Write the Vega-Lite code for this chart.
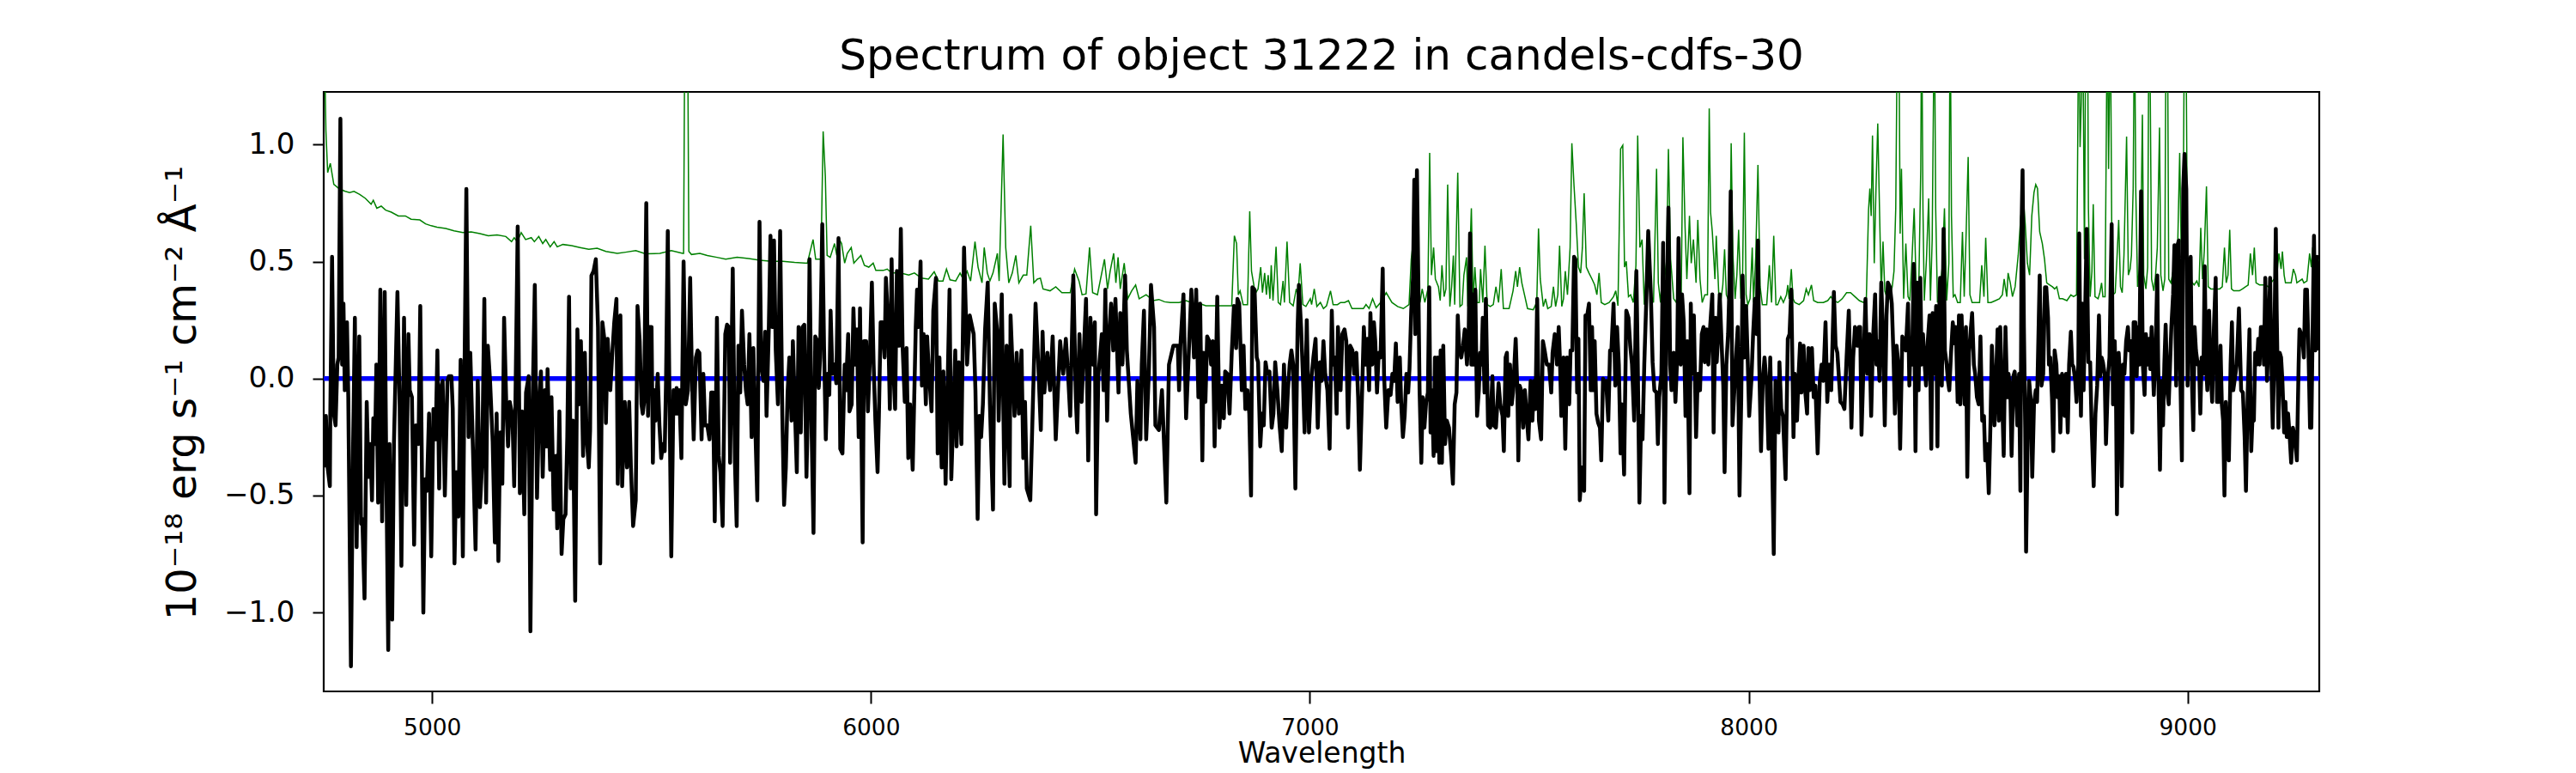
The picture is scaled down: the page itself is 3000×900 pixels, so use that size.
{
"$schema": "https://vega.github.io/schema/vega-lite/v6.json",
"width": 2324,
"height": 698,
"autosize": {"type": "none"},
"padding": {"left": 377, "top": 107, "right": 299, "bottom": 95},
"background": "#ffffff",
"title": {"text": "Spectrum of object 31222 in candels-cdfs-30", "font": "DejaVu Sans", "fontSize": 50, "fontWeight": "normal", "color": "#000000", "anchor": "middle", "frame": "group", "baseline": "alphabetic", "offset": 21.5, "dy": 45},
"datasets": {
"model": [{"wl":4753,"flux":0},{"wl":9300,"flux":0}],
"error": [
{"wl":4753,"flux":1.6},{"wl":4758,"flux":1.06},{"wl":4762,"flux":0.88},{"wl":4768,"flux":0.92},{"wl":4776,"flux":0.83},{"wl":4789,"flux":0.81},{"wl":4802,"flux":0.8},{"wl":4812,"flux":0.795},{"wl":4822,"flux":0.8},{"wl":4835,"flux":0.787},{"wl":4848,"flux":0.77},{"wl":4861,"flux":0.745},{"wl":4866,"flux":0.762},{"wl":4874,"flux":0.728},{"wl":4884,"flux":0.737},{"wl":4894,"flux":0.72},{"wl":4907,"flux":0.711},{"wl":4923,"flux":0.695},{"wl":4939,"flux":0.695},{"wl":4952,"flux":0.681},{"wl":4972,"flux":0.678},{"wl":4985,"flux":0.661},{"wl":4998,"flux":0.653},{"wl":5011,"flux":0.647},{"wl":5031,"flux":0.641},{"wl":5050,"flux":0.631},{"wl":5070,"flux":0.624},{"wl":5089,"flux":0.627},{"wl":5109,"flux":0.619},{"wl":5128,"flux":0.61},{"wl":5148,"flux":0.614},{"wl":5168,"flux":0.607},{"wl":5181,"flux":0.585},{"wl":5187,"flux":0.602},{"wl":5194,"flux":0.585},{"wl":5203,"flux":0.624},{"wl":5213,"flux":0.594},{"wl":5226,"flux":0.602},{"wl":5233,"flux":0.585},{"wl":5243,"flux":0.607},{"wl":5252,"flux":0.577},{"wl":5259,"flux":0.594},{"wl":5269,"flux":0.563},{"wl":5278,"flux":0.585},{"wl":5285,"flux":0.563},{"wl":5298,"flux":0.573},{"wl":5318,"flux":0.568},{"wl":5337,"flux":0.56},{"wl":5357,"flux":0.552},{"wl":5376,"flux":0.557},{"wl":5396,"flux":0.543},{"wl":5422,"flux":0.535},
{"wl":5441,"flux":0.54},{"wl":5464,"flux":0.547},{"wl":5486,"flux":0.533},{"wl":5519,"flux":0.535},{"wl":5545,"flux":0.547},{"wl":5571,"flux":0.535},{"wl":5573,"flux":0.535},{"wl":5576,"flux":1.6},{"wl":5582,"flux":1.6},{"wl":5585,"flux":0.543},{"wl":5591,"flux":0.53},{"wl":5610,"flux":0.535},{"wl":5627,"flux":0.526},{"wl":5649,"flux":0.518},{"wl":5669,"flux":0.51},{"wl":5695,"flux":0.518},{"wl":5721,"flux":0.513},{"wl":5747,"flux":0.506},{"wl":5773,"flux":0.501},{"wl":5799,"flux":0.501},{"wl":5826,"flux":0.496},{"wl":5855,"flux":0.493},{"wl":5868,"flux":0.594},{"wl":5874,"flux":0.51},{"wl":5886,"flux":0.51},{"wl":5891,"flux":1.056},{"wl":5896,"flux":0.863},{"wl":5900,"flux":0.526},{"wl":5907,"flux":0.518},{"wl":5917,"flux":0.577},{"wl":5922,"flux":0.526},{"wl":5927,"flux":0.597},{"wl":5933,"flux":0.577},{"wl":5940,"flux":0.493},{"wl":5946,"flux":0.535},{"wl":5955,"flux":0.56},{"wl":5961,"flux":0.493},{"wl":5969,"flux":0.51},{"wl":5977,"flux":0.526},{"wl":5985,"flux":0.484},{"wl":5995,"flux":0.476},{"wl":6005,"flux":0.493},{"wl":6011,"flux":0.462},{"wl":6028,"flux":0.462},{"wl":6037,"flux":0.468},{"wl":6047,"flux":0.451},{"wl":6067,"flux":0.451},{"wl":6086,"flux":0.442},
{"wl":6099,"flux":0.451},{"wl":6115,"flux":0.429},{"wl":6131,"flux":0.425},{"wl":6144,"flux":0.456},{"wl":6154,"flux":0.417},{"wl":6164,"flux":0.417},{"wl":6172,"flux":0.468},{"wl":6180,"flux":0.422},{"wl":6193,"flux":0.417},{"wl":6203,"flux":0.451},{"wl":6210,"flux":0.425},{"wl":6219,"flux":0.459},{"wl":6227,"flux":0.417},{"wl":6237,"flux":0.585},{"wl":6244,"flux":0.476},{"wl":6253,"flux":0.409},{"wl":6258,"flux":0.56},{"wl":6265,"flux":0.451},{"wl":6271,"flux":0.417},{"wl":6278,"flux":0.451},{"wl":6288,"flux":0.535},{"wl":6292,"flux":0.417},{"wl":6301,"flux":1.043},{"wl":6307,"flux":0.56},{"wl":6314,"flux":0.409},{"wl":6322,"flux":0.451},{"wl":6330,"flux":0.526},{"wl":6337,"flux":0.409},{"wl":6347,"flux":0.442},{"wl":6355,"flux":0.442},{"wl":6364,"flux":0.653},{"wl":6371,"flux":0.409},{"wl":6379,"flux":0.425},{"wl":6386,"flux":0.429},{"wl":6392,"flux":0.383},{"wl":6408,"flux":0.375},{"wl":6421,"flux":0.392},{"wl":6435,"flux":0.367},{"wl":6454,"flux":0.367},{"wl":6464,"flux":0.468},{"wl":6474,"flux":0.417},{"wl":6481,"flux":0.358},{"wl":6490,"flux":0.362},{"wl":6498,"flux":0.56},{"wl":6505,"flux":0.367},{"wl":6516,"flux":0.358},{"wl":6532,"flux":0.51},{"wl":6539,"flux":0.383},{"wl":6545,"flux":0.459},{"wl":6553,"flux":0.535},{"wl":6558,"flux":0.409},{"wl":6563,"flux":0.518},{"wl":6568,"flux":0.383},{"wl":6577,"flux":0.493},{"wl":6585,"flux":0.341},{"wl":6594,"flux":0.375},{"wl":6603,"flux":0.4},{"wl":6611,"flux":0.341},{"wl":6627,"flux":0.358},{"wl":6643,"flux":0.333},{"wl":6656,"flux":0.338},{"wl":6669,"flux":0.328},{"wl":6682,"flux":0.325},{"wl":6702,"flux":0.325},{"wl":6718,"flux":0.333},{"wl":6735,"flux":0.321},{"wl":6748,"flux":0.321},
{"wl":6763,"flux":0.311},{"wl":6783,"flux":0.311},{"wl":6809,"flux":0.311},{"wl":6822,"flux":0.311},{"wl":6828,"flux":0.61},{"wl":6833,"flux":0.577},{"wl":6837,"flux":0.358},{"wl":6841,"flux":0.375},{"wl":6848,"flux":0.316},{"wl":6858,"flux":0.316},{"wl":6863,"flux":0.715},{"wl":6867,"flux":0.459},{"wl":6873,"flux":0.392},{"wl":6877,"flux":0.367},{"wl":6882,"flux":0.383},{"wl":6888,"flux":0.476},{"wl":6892,"flux":0.367},{"wl":6897,"flux":0.451},{"wl":6901,"flux":0.358},{"wl":6905,"flux":0.442},{"wl":6909,"flux":0.341},{"wl":6912,"flux":0.484},{"wl":6916,"flux":0.333},{"wl":6923,"flux":0.563},{"wl":6928,"flux":0.325},{"wl":6933,"flux":0.316},{"wl":6939,"flux":0.417},{"wl":6942,"flux":0.325},{"wl":6948,"flux":0.585},{"wl":6954,"flux":0.325},{"wl":6962,"flux":0.311},{"wl":6969,"flux":0.383},{"wl":6973,"flux":0.358},{"wl":6978,"flux":0.493},{"wl":6984,"flux":0.316},{"wl":6991,"flux":0.308},{"wl":7001,"flux":0.341},{"wl":7004,"flux":0.316},{"wl":7010,"flux":0.383},{"wl":7016,"flux":0.308},{"wl":7024,"flux":0.325},{"wl":7031,"flux":0.299},{"wl":7038,"flux":0.311},{"wl":7047,"flux":0.375},{"wl":7053,"flux":0.316},{"wl":7063,"flux":0.316},{"wl":7070,"flux":0.325},{"wl":7079,"flux":0.325},{"wl":7088,"flux":0.333},{"wl":7096,"flux":0.299},{"wl":7109,"flux":0.299},{"wl":7122,"flux":0.299},{"wl":7128,"flux":0.316},{"wl":7135,"flux":0.299},{"wl":7143,"flux":0.341},{"wl":7151,"flux":0.303},{"wl":7161,"flux":0.325},{"wl":7174,"flux":0.367},{"wl":7187,"flux":0.325},{"wl":7200,"flux":0.308},{"wl":7213,"flux":0.299},{"wl":7226,"flux":0.316},{"wl":7231,"flux":0.51},{"wl":7236,"flux":0.594},{"wl":7240,"flux":0.526},{"wl":7246,"flux":0.442},{"wl":7251,"flux":0.325},{"wl":7256,"flux":0.383},{"wl":7262,"flux":0.325},{"wl":7269,"flux":0.383},{"wl":7273,"flux":0.964},{"wl":7277,"flux":0.442},{"wl":7282,"flux":0.56},{"wl":7286,"flux":0.425},{"wl":7293,"flux":0.392},{"wl":7297,"flux":0.333},{"wl":7301,"flux":0.484},{"wl":7306,"flux":0.35},{"wl":7310,"flux":0.383},{"wl":7314,"flux":0.829},{"wl":7319,"flux":0.308},{"wl":7323,"flux":0.392},{"wl":7327,"flux":0.526},{"wl":7330,"flux":0.316},{"wl":7337,"flux":0.88},{"wl":7342,"flux":0.308},{"wl":7347,"flux":0.316},{"wl":7351,"flux":0.442},{"wl":7357,"flux":0.518},{"wl":7360,"flux":0.308},{"wl":7363,"flux":0.442},{"wl":7368,"flux":0.728},{"wl":7372,"flux":0.325},{"wl":7376,"flux":0.476},{"wl":7381,"flux":0.325},{"wl":7386,"flux":0.325},{"wl":7389,"flux":0.468},{"wl":7394,"flux":0.325},{"wl":7399,"flux":0.568},{"wl":7404,"flux":0.316},
{"wl":7411,"flux":0.308},{"wl":7418,"flux":0.316},{"wl":7424,"flux":0.392},{"wl":7430,"flux":0.325},{"wl":7436,"flux":0.468},{"wl":7441,"flux":0.299},{"wl":7454,"flux":0.299},{"wl":7463,"flux":0.375},{"wl":7469,"flux":0.459},{"wl":7473,"flux":0.392},{"wl":7478,"flux":0.476},{"wl":7483,"flux":0.409},{"wl":7490,"flux":0.35},{"wl":7496,"flux":0.299},{"wl":7509,"flux":0.294},{"wl":7517,"flux":0.325},{"wl":7521,"flux":0.641},{"wl":7525,"flux":0.425},{"wl":7532,"flux":0.308},{"wl":7537,"flux":0.341},{"wl":7542,"flux":0.299},{"wl":7550,"flux":0.308},{"wl":7555,"flux":0.392},{"wl":7560,"flux":0.308},{"wl":7565,"flux":0.358},{"wl":7569,"flux":0.568},{"wl":7574,"flux":0.308},{"wl":7578,"flux":0.341},{"wl":7582,"flux":0.459},{"wl":7587,"flux":0.358},{"wl":7593,"flux":0.56},{"wl":7597,"flux":1.006},{"wl":7602,"flux":0.821},{"wl":7607,"flux":0.661},{"wl":7612,"flux":0.476},{"wl":7617,"flux":0.451},{"wl":7621,"flux":0.56},{"wl":7625,"flux":0.792},{"wl":7630,"flux":0.476},{"wl":7636,"flux":0.451},{"wl":7643,"flux":0.425},{"wl":7649,"flux":0.4},{"wl":7654,"flux":0.358},{"wl":7659,"flux":0.451},{"wl":7664,"flux":0.325},{"wl":7672,"flux":0.316},{"wl":7682,"flux":0.325},{"wl":7692,"flux":0.35},{"wl":7697,"flux":0.375},{"wl":7702,"flux":0.311},{"wl":7708,"flux":0.981},{"wl":7713,"flux":0.997},{"wl":7717,"flux":0.476},{"wl":7721,"flux":0.501},{"wl":7726,"flux":0.35},{"wl":7731,"flux":0.358},{"wl":7737,"flux":0.325},{"wl":7743,"flux":0.484},{"wl":7747,"flux":1.039},{"wl":7752,"flux":0.56},{"wl":7757,"flux":0.594},{"wl":7762,"flux":0.316},{"wl":7767,"flux":0.459},{"wl":7771,"flux":0.51},{"wl":7777,"flux":0.358},{"wl":7783,"flux":0.325},{"wl":7790,"flux":0.896},{"wl":7794,"flux":0.409},{"wl":7799,"flux":0.325},{"wl":7806,"flux":0.526},{"wl":7812,"flux":0.425},{"wl":7817,"flux":0.981},{"wl":7822,"flux":0.51},{"wl":7829,"flux":0.341},{"wl":7835,"flux":0.325},{"wl":7842,"flux":0.442},{"wl":7846,"flux":0.325},{"wl":7850,"flux":1.031},{"wl":7855,"flux":0.644},{"wl":7859,"flux":0.425},{"wl":7865,"flux":0.695},{"wl":7869,"flux":0.493},{"wl":7874,"flux":0.594},{"wl":7880,"flux":0.409},{"wl":7884,"flux":0.678},{"wl":7889,"flux":0.425},{"wl":7894,"flux":0.325},{"wl":7900,"flux":0.358},{"wl":7906,"flux":0.358},{"wl":7910,"flux":1.154},{"wl":7913,"flux":0.711},{"wl":7917,"flux":0.627},{"wl":7923,"flux":0.425},{"wl":7926,"flux":0.61},{"wl":7932,"flux":0.35},{"wl":7936,"flux":0.325},{"wl":7941,"flux":0.4},{"wl":7945,"flux":0.552},{"wl":7949,"flux":0.358},{"wl":7956,"flux":0.325},{"wl":7960,"flux":1.006},{"wl":7964,"flux":0.526},{"wl":7969,"flux":0.341},{"wl":7973,"flux":0.442},{"wl":7977,"flux":0.636},{"wl":7982,"flux":0.341},{"wl":7986,"flux":0.434},{"wl":7990,"flux":1.051},{"wl":7994,"flux":0.358},{"wl":7998,"flux":0.316},{"wl":8003,"flux":0.341},{"wl":8008,"flux":0.56},{"wl":8011,"flux":0.325},{"wl":8016,"flux":0.526},{"wl":8021,"flux":0.913},{"wl":8026,"flux":0.392},{"wl":8031,"flux":0.316},{"wl":8041,"flux":0.316},{"wl":8047,"flux":0.484},{"wl":8052,"flux":0.325},{"wl":8057,"flux":0.61},{"wl":8062,"flux":0.316},
{"wl":8066,"flux":0.316},{"wl":8073,"flux":0.35},{"wl":8079,"flux":0.325},{"wl":8086,"flux":0.358},{"wl":8089,"flux":0.4},{"wl":8092,"flux":0.341},{"wl":8097,"flux":0.468},{"wl":8101,"flux":0.341},{"wl":8105,"flux":0.325},{"wl":8115,"flux":0.316},{"wl":8125,"flux":0.333},{"wl":8131,"flux":0.383},{"wl":8136,"flux":0.358},{"wl":8143,"flux":0.4},{"wl":8148,"flux":0.333},{"wl":8157,"flux":0.325},{"wl":8170,"flux":0.325},{"wl":8180,"flux":0.333},{"wl":8187,"flux":0.35},{"wl":8193,"flux":0.333},{"wl":8203,"flux":0.325},{"wl":8213,"flux":0.341},{"wl":8223,"flux":0.367},{"wl":8232,"flux":0.367},{"wl":8242,"flux":0.35},{"wl":8252,"flux":0.333},{"wl":8262,"flux":0.325},{"wl":8268,"flux":0.341},{"wl":8273,"flux":0.72},{"wl":8276,"flux":0.812},{"wl":8279,"flux":0.695},{"wl":8282,"flux":1.039},{"wl":8286,"flux":0.493},{"wl":8290,"flux":0.812},{"wl":8294,"flux":1.09},{"wl":8297,"flux":0.812},{"wl":8302,"flux":0.367},{"wl":8306,"flux":0.585},{"wl":8310,"flux":0.375},{"wl":8314,"flux":0.35},{"wl":8320,"flux":0.341},{"wl":8327,"flux":0.392},{"wl":8331,"flux":0.459},{"wl":8335,"flux":0.728},{"wl":8339,"flux":1.6},{"wl":8342,"flux":1.6},{"wl":8345,"flux":0.619},{"wl":8348,"flux":0.896},{"wl":8353,"flux":0.341},{"wl":8358,"flux":0.577},{"wl":8363,"flux":0.35},{"wl":8367,"flux":0.333},{"wl":8372,"flux":0.51},{"wl":8377,"flux":0.728},{"wl":8382,"flux":0.35},{"wl":8387,"flux":0.333},{"wl":8392,"flux":0.896},{"wl":8394,"flux":1.6},{"wl":8397,"flux":0.728},{"wl":8400,"flux":0.333},{"wl":8405,"flux":0.51},{"wl":8410,"flux":0.77},{"wl":8414,"flux":0.333},{"wl":8418,"flux":0.594},{"wl":8423,"flux":1.6},{"wl":8426,"flux":0.728},{"wl":8430,"flux":0.325},{"wl":8434,"flux":0.358},{"wl":8441,"flux":0.476},{"wl":8446,"flux":0.728},{"wl":8451,"flux":0.333},{"wl":8456,"flux":0.493},{"wl":8459,"flux":1.6},{"wl":8462,"flux":0.695},{"wl":8466,"flux":0.35},{"wl":8470,"flux":0.358},{"wl":8476,"flux":0.325},{"wl":8482,"flux":0.325},{"wl":8487,"flux":0.627},{"wl":8491,"flux":0.35},{"wl":8495,"flux":0.594},{"wl":8500,"flux":0.947},{"wl":8504,"flux":0.358},{"wl":8509,"flux":0.325},{"wl":8516,"flux":0.325},{"wl":8526,"flux":0.325},{"wl":8531,"flux":0.484},{"wl":8536,"flux":0.35},{"wl":8540,"flux":0.602},{"wl":8545,"flux":0.325},{"wl":8552,"flux":0.325},{"wl":8562,"flux":0.333},{"wl":8571,"flux":0.341},{"wl":8578,"flux":0.358},{"wl":8582,"flux":0.425},{"wl":8588,"flux":0.35},{"wl":8591,"flux":0.451},{"wl":8596,"flux":0.409},{"wl":8601,"flux":0.35},{"wl":8607,"flux":0.392},{"wl":8614,"flux":0.526},{"wl":8620,"flux":0.695},{"wl":8626,"flux":0.762},{"wl":8630,"flux":0.661},{"wl":8635,"flux":0.493},{"wl":8640,"flux":0.442},{"wl":8645,"flux":0.695},{"wl":8650,"flux":0.795},{"wl":8654,"flux":0.829},{"wl":8658,"flux":0.812},{"wl":8663,"flux":0.627},{"wl":8669,"flux":0.577},{"wl":8674,"flux":0.51},{"wl":8679,"flux":0.409},{"wl":8686,"flux":0.4},{"wl":8692,"flux":0.392},{"wl":8697,"flux":0.383},{"wl":8702,"flux":0.392},{"wl":8708,"flux":0.341},{"wl":8715,"flux":0.341},{"wl":8725,"flux":0.333},
{"wl":8734,"flux":0.358},{"wl":8740,"flux":0.35},{"wl":8747,"flux":0.358},{"wl":8752,"flux":1.6},{"wl":8755,"flux":0.989},{"wl":8758,"flux":1.199},{"wl":8761,"flux":1.6},{"wl":8765,"flux":0.51},{"wl":8768,"flux":1.6},{"wl":8772,"flux":1.6},{"wl":8774,"flux":0.728},{"wl":8778,"flux":0.35},{"wl":8782,"flux":0.459},{"wl":8785,"flux":0.745},{"wl":8789,"flux":0.35},{"wl":8796,"flux":0.341},{"wl":8800,"flux":0.367},{"wl":8804,"flux":0.409},{"wl":8807,"flux":0.35},{"wl":8812,"flux":0.35},{"wl":8817,"flux":1.6},{"wl":8820,"flux":0.896},{"wl":8824,"flux":1.6},{"wl":8827,"flux":0.678},{"wl":8830,"flux":0.358},{"wl":8835,"flux":0.367},{"wl":8839,"flux":0.51},{"wl":8843,"flux":0.678},{"wl":8847,"flux":0.392},{"wl":8851,"flux":0.367},{"wl":8855,"flux":0.526},{"wl":8861,"flux":1.034},{"wl":8865,"flux":0.442},{"wl":8869,"flux":0.468},{"wl":8872,"flux":0.526},{"wl":8876,"flux":0.812},{"wl":8879,"flux":1.6},{"wl":8882,"flux":0.795},{"wl":8886,"flux":0.392},{"wl":8890,"flux":0.468},{"wl":8894,"flux":0.678},{"wl":8897,"flux":1.128},{"wl":8900,"flux":0.442},{"wl":8905,"flux":0.383},{"wl":8909,"flux":0.476},{"wl":8912,"flux":1.6},{"wl":8915,"flux":1.199},{"wl":8918,"flux":0.425},{"wl":8923,"flux":0.375},{"wl":8927,"flux":0.442},{"wl":8931,"flux":0.56},{"wl":8936,"flux":1.073},{"wl":8939,"flux":0.442},{"wl":8944,"flux":0.375},{"wl":8948,"flux":0.425},{"wl":8951,"flux":1.6},{"wl":8954,"flux":1.6},{"wl":8957,"flux":0.425},{"wl":8962,"flux":0.409},{"wl":8967,"flux":0.459},{"wl":8972,"flux":0.56},{"wl":8976,"flux":0.442},{"wl":8982,"flux":0.964},{"wl":8985,"flux":0.594},{"wl":8989,"flux":0.442},{"wl":8993,"flux":1.6},{"wl":8996,"flux":1.6},{"wl":9000,"flux":0.392},{"wl":9004,"flux":0.425},{"wl":9011,"flux":0.409},{"wl":9015,"flux":0.4},{"wl":9021,"flux":0.417},{"wl":9026,"flux":0.392},{"wl":9030,"flux":0.644},{"wl":9034,"flux":0.425},{"wl":9038,"flux":0.543},{"wl":9043,"flux":0.821},{"wl":9047,"flux":0.392},{"wl":9053,"flux":0.383},{"wl":9060,"flux":0.383},{"wl":9066,"flux":0.383},{"wl":9073,"flux":0.383},{"wl":9079,"flux":0.392},{"wl":9084,"flux":0.56},{"wl":9088,"flux":0.409},{"wl":9092,"flux":0.442},{"wl":9096,"flux":0.636},{"wl":9100,"flux":0.383},{"wl":9105,"flux":0.375},{"wl":9112,"flux":0.375},{"wl":9118,"flux":0.375},{"wl":9125,"flux":0.383},{"wl":9132,"flux":0.392},{"wl":9138,"flux":0.4},{"wl":9143,"flux":0.535},{"wl":9148,"flux":0.442},{"wl":9152,"flux":0.56},{"wl":9156,"flux":0.409},{"wl":9164,"flux":0.4},{"wl":9177,"flux":0.4},{"wl":9184,"flux":0.392},{"wl":9190,"flux":0.409},{"wl":9197,"flux":0.425},{"wl":9203,"flux":0.434},{"wl":9208,"flux":0.535},{"wl":9213,"flux":0.468},{"wl":9216,"flux":0.543},{"wl":9220,"flux":0.442},{"wl":9223,"flux":0.409},{"wl":9229,"flux":0.409},{"wl":9236,"flux":0.409},{"wl":9241,"flux":0.468},{"wl":9246,"flux":0.442},{"wl":9249,"flux":0.409},{"wl":9255,"flux":0.417},{"wl":9261,"flux":0.425},{"wl":9265,"flux":0.409},{"wl":9272,"flux":0.417},{"wl":9278,"flux":0.535},{"wl":9282,"flux":0.476},{"wl":9285,"flux":0.56},{"wl":9288,"flux":0.518},{"wl":9295,"flux":0.493},{"wl":9300,"flux":0.51}
],
"flux": [
{"wl":4753,"flux":-0.38},{"wl":4758,"flux":-0.16},{"wl":4762,"flux":-0.38},{"wl":4767,"flux":-0.46},{"wl":4768,"flux":-0.15},{"wl":4772,"flux":0.52},{"wl":4776,"flux":-0.15},{"wl":4780,"flux":-0.2},{"wl":4784,"flux":0.06},{"wl":4787,"flux":0.09},{"wl":4791,"flux":1.11},{"wl":4795,"flux":0.06},{"wl":4798,"flux":0.32},{"wl":4801,"flux":-0.05},{"wl":4806,"flux":0.24},{"wl":4809,"flux":-0.08},{"wl":4815,"flux":-1.23},{"wl":4820,"flux":-0.28},{"wl":4824,"flux":0.26},{"wl":4828,"flux":-0.72},{"wl":4834,"flux":0.18},{"wl":4838,"flux":-0.62},{"wl":4841,"flux":-0.6},{"wl":4846,"flux":-0.94},{"wl":4851,"flux":-0.1},{"wl":4855,"flux":-0.42},{"wl":4859,"flux":-0.28},{"wl":4863,"flux":-0.52},{"wl":4866,"flux":-0.17},{"wl":4870,"flux":-0.28},{"wl":4873,"flux":0.06},{"wl":4877,"flux":-0.53},{"wl":4882,"flux":0.38},{"wl":4886,"flux":-0.61},{"wl":4892,"flux":0.37},{"wl":4895,"flux":-0.28},{"wl":4900,"flux":-1.16},{"wl":4903,"flux":-0.28},{"wl":4909,"flux":-1.03},{"wl":4913,"flux":-0.28},{"wl":4921,"flux":0.37},{"wl":4926,"flux":-0.11},{"wl":4930,"flux":-0.8},{"wl":4936,"flux":0.26},{"wl":4941,"flux":-0.54},{"wl":4946,"flux":0.19},{"wl":4949,"flux":-0.05},{"wl":4954,"flux":-0.08},{"wl":4959,"flux":-0.71},{"wl":4963,"flux":-0.2},{"wl":4969,"flux":-0.28},{"wl":4973,"flux":0.31},{"wl":4980,"flux":-1.0},{"wl":4984,"flux":-0.43},{"wl":4988,"flux":-0.48},{"wl":4993,"flux":-0.15},{"wl":4998,"flux":-0.76},{"wl":5003,"flux":-0.13},{"wl":5008,"flux":-0.26},{"wl":5012,"flux":0.12},{"wl":5016,"flux":-0.47},{"wl":5019,"flux":-0.05},{"wl":5024,"flux":-0.01},{"wl":5029,"flux":-0.5},{"wl":5035,"flux":-0.01},{"wl":5038,"flux":0.01},{"wl":5044,"flux":0.01},{"wl":5047,"flux":-0.13},{"wl":5051,"flux":-0.79},{"wl":5055,"flux":-0.4},{"wl":5060,"flux":-0.59},{"wl":5065,"flux":0.08},{"wl":5070,"flux":-0.76},{"wl":5074,"flux":0.06},{"wl":5078,"flux":0.81},{"wl":5083,"flux":-0.25},{"wl":5087,"flux":0.11},{"wl":5093,"flux":-0.3},{"wl":5099,"flux":-0.73},{"wl":5104,"flux":-0.01},{"wl":5109,"flux":-0.55},{"wl":5114,"flux":-0.36},{"wl":5119,"flux":0.34},{"wl":5123,"flux":-0.53},{"wl":5127,"flux":0.14},{"wl":5132,"flux":-0.01},{"wl":5138,"flux":-0.27},{"wl":5143,"flux":-0.7},{"wl":5147,"flux":-0.15},{"wl":5151,"flux":-0.78},{"wl":5155,"flux":-0.23},{"wl":5160,"flux":-0.45},{"wl":5164,"flux":0.26},{"wl":5169,"flux":-0.11},{"wl":5173,"flux":-0.29},{"wl":5177,"flux":-0.1},{"wl":5183,"flux":-0.16},{"wl":5187,"flux":-0.46},{"wl":5190,"flux":-0.08},{"wl":5195,"flux":0.65},{"wl":5200,"flux":-0.49},{"wl":5205,"flux":-0.14},{"wl":5210,"flux":-0.58},{"wl":5214,"flux":-0.06},{"wl":5220,"flux":0.01},{"wl":5224,"flux":-1.08},{"wl":5229,"flux":-0.11},{"wl":5234,"flux":0.4},{"wl":5239,"flux":-0.51},{"wl":5244,"flux":-0.1},{"wl":5248,"flux":0.03},{"wl":5252,"flux":-0.42},{"wl":5257,"flux":-0.05},{"wl":5261,"flux":-0.29},{"wl":5263,"flux":0.04},{"wl":5269,"flux":-0.39},{"wl":5272,"flux":-0.08},{"wl":5277,"flux":-0.56},{"wl":5282,"flux":-0.33},{"wl":5285,"flux":-0.64},{"wl":5290,"flux":-0.14},{"wl":5295,"flux":-0.75},{"wl":5299,"flux":-0.6},{"wl":5304,"flux":-0.58},{"wl":5308,"flux":-0.25},{"wl":5312,"flux":0.35},{"wl":5316,"flux":-0.47},{"wl":5321,"flux":-0.18},{"wl":5326,"flux":-0.95},{"wl":5331,"flux":0.21},{"wl":5335,"flux":-0.11},{"wl":5339,"flux":0.16},{"wl":5344,"flux":-0.33},{"wl":5348,"flux":0.11},{"wl":5352,"flux":-0.25},{"wl":5357,"flux":-0.38},{"wl":5360,"flux":-0.22},{"wl":5363,"flux":0.44},{"wl":5368,"flux":0.46},{"wl":5373,"flux":0.51},{"wl":5378,"flux":0.22},{"wl":5383,"flux":-0.79},{"wl":5388,"flux":0.24},{"wl":5393,"flux":0.16},{"wl":5396,"flux":-0.19},{"wl":5400,"flux":0.17},{"wl":5406,"flux":-0.05},{"wl":5410,"flux":0.09},{"wl":5415,"flux":0.24},{"wl":5420,"flux":0.34},
{"wl":5423,"flux":-0.45},{"wl":5429,"flux":0.27},{"wl":5433,"flux":-0.46},{"wl":5439,"flux":-0.1},{"wl":5444,"flux":-0.38},{"wl":5449,"flux":-0.1},{"wl":5453,"flux":-0.38},{"wl":5458,"flux":-0.63},{"wl":5464,"flux":-0.52},{"wl":5468,"flux":0.31},{"wl":5473,"flux":0.16},{"wl":5477,"flux":-0.11},{"wl":5480,"flux":-0.15},{"wl":5483,"flux":-0.1},{"wl":5488,"flux":0.75},{"wl":5492,"flux":-0.16},{"wl":5495,"flux":0.22},{"wl":5500,"flux":0.22},{"wl":5503,"flux":-0.36},{"wl":5506,"flux":-0.05},{"wl":5509,"flux":-0.18},{"wl":5514,"flux":0.02},{"wl":5518,"flux":-0.2},{"wl":5522,"flux":-0.34},{"wl":5526,"flux":-0.28},{"wl":5530,"flux":-0.31},{"wl":5533,"flux":-0.01},{"wl":5537,"flux":0.63},{"wl":5541,"flux":-0.11},{"wl":5545,"flux":-0.76},{"wl":5550,"flux":-0.05},{"wl":5554,"flux":-0.15},{"wl":5557,"flux":-0.04},{"wl":5560,"flux":-0.15},{"wl":5563,"flux":-0.05},{"wl":5568,"flux":-0.34},{"wl":5573,"flux":0.5},{"wl":5578,"flux":-0.11},{"wl":5583,"flux":-0.05},{"wl":5588,"flux":0.43},{"wl":5592,"flux":0.01},{"wl":5596,"flux":-0.26},{"wl":5601,"flux":0.09},{"wl":5605,"flux":0.12},{"wl":5609,"flux":0.11},{"wl":5614,"flux":-0.26},{"wl":5618,"flux":0.02},{"wl":5622,"flux":-0.2},{"wl":5627,"flux":-0.2},{"wl":5632,"flux":-0.26},{"wl":5636,"flux":-0.06},{"wl":5640,"flux":-0.06},{"wl":5644,"flux":-0.61},{"wl":5649,"flux":0.26},{"wl":5653,"flux":-0.33},{"wl":5657,"flux":-0.4},{"wl":5662,"flux":-0.63},{"wl":5668,"flux":0.19},{"wl":5672,"flux":0.23},{"wl":5676,"flux":0.22},{"wl":5679,"flux":-0.36},{"wl":5685,"flux":0.47},{"wl":5690,"flux":-0.36},{"wl":5694,"flux":-0.63},{"wl":5698,"flux":0.14},{"wl":5702,"flux":-0.06},{"wl":5706,"flux":0.29},{"wl":5711,"flux":0.06},{"wl":5715,"flux":-0.05},{"wl":5719,"flux":-0.11},{"wl":5723,"flux":0.19},{"wl":5728,"flux":-0.25},{"wl":5732,"flux":0.13},{"wl":5736,"flux":-0.18},{"wl":5741,"flux":-0.52},{"wl":5746,"flux":0.67},{"wl":5750,"flux":0.06},{"wl":5755,"flux":-0.01},{"wl":5759,"flux":0.2},{"wl":5762,"flux":-0.16},{"wl":5767,"flux":0.2},{"wl":5771,"flux":0.61},{"wl":5775,"flux":0.22},{"wl":5779,"flux":0.59},{"wl":5783,"flux":0.12},{"wl":5788,"flux":-0.11},{"wl":5793,"flux":0.63},{"wl":5798,"flux":-0.16},{"wl":5802,"flux":-0.54},{"wl":5806,"flux":-0.38},{"wl":5810,"flux":-0.06},{"wl":5814,"flux":0.09},{"wl":5819,"flux":-0.18},{"wl":5822,"flux":0.16},{"wl":5827,"flux":-0.15},{"wl":5831,"flux":-0.4},{"wl":5835,"flux":0.22},{"wl":5840,"flux":-0.23},{"wl":5844,"flux":0.22},{"wl":5848,"flux":0.23},{"wl":5853,"flux":-0.42},{"wl":5857,"flux":-0.05},{"wl":5860,"flux":0.51},{"wl":5865,"flux":-0.25},{"wl":5869,"flux":-0.66},{"wl":5873,"flux":0.18},{"wl":5878,"flux":0.16},{"wl":5881,"flux":-0.04},{"wl":5884,"flux":0.09},{"wl":5889,"flux":0.66},{"wl":5893,"flux":0.14},{"wl":5897,"flux":-0.26},{"wl":5901,"flux":0.02},{"wl":5905,"flux":-0.07},{"wl":5908,"flux":0.29},{"wl":5912,"flux":0.02},{"wl":5917,"flux":0.06},{"wl":5921,"flux":-0.02},{"wl":5926,"flux":0.6},{"wl":5930,"flux":-0.3},{"wl":5935,"flux":-0.32},{"wl":5940,"flux":0.06},{"wl":5943,"flux":-0.05},{"wl":5948,"flux":0.19},{"wl":5951,"flux":-0.14},{"wl":5956,"flux":-0.11},{"wl":5960,"flux":0.3},{"wl":5964,"flux":0.06},{"wl":5968,"flux":0.21},{"wl":5972,"flux":-0.25},{"wl":5975,"flux":0.3},{"wl":5981,"flux":-0.7},{"wl":5984,"flux":0.16},{"wl":5989,"flux":0.16},{"wl":5993,"flux":-0.14},{"wl":5997,"flux":0.06},{"wl":6002,"flux":0.41},{"wl":6006,"flux":0.06},{"wl":6010,"flux":-0.18},{"wl":6015,"flux":-0.4},{"wl":6018,"flux":-0.16},{"wl":6022,"flux":0.24},{"wl":6026,"flux":0.24},{"wl":6031,"flux":0.09},{"wl":6034,"flux":0.43},{"wl":6039,"flux":0.24},{"wl":6043,"flux":-0.13},{"wl":6047,"flux":0.51},{"wl":6051,"flux":0.04},{"wl":6055,"flux":-0.13},{"wl":6059,"flux":0.46},{"wl":6064,"flux":0.14},{"wl":6068,"flux":0.64},{"wl":6072,"flux":0.14},{"wl":6077,"flux":-0.1},{"wl":6081,"flux":0.13},{"wl":6085,"flux":-0.34},
{"wl":6089,"flux":-0.11},{"wl":6095,"flux":-0.39},{"wl":6102,"flux":0.22},{"wl":6105,"flux":0.38},{"wl":6108,"flux":0.22},{"wl":6113,"flux":0.5},{"wl":6116,"flux":-0.03},{"wl":6120,"flux":0.19},{"wl":6125,"flux":-0.11},{"wl":6128,"flux":0.18},{"wl":6131,"flux":0.06},{"wl":6138,"flux":-0.14},{"wl":6142,"flux":0.29},{"wl":6148,"flux":0.43},{"wl":6152,"flux":-0.32},{"wl":6156,"flux":0.09},{"wl":6161,"flux":-0.38},{"wl":6165,"flux":0.03},{"wl":6170,"flux":-0.45},{"wl":6179,"flux":0.38},{"wl":6183,"flux":-0.43},{"wl":6192,"flux":0.12},{"wl":6195,"flux":-0.29},{"wl":6200,"flux":0.07},{"wl":6206,"flux":-0.28},{"wl":6212,"flux":0.56},{"wl":6216,"flux":0.29},{"wl":6219,"flux":0.06},{"wl":6225,"flux":0.27},{"wl":6234,"flux":0.19},{"wl":6238,"flux":-0.05},{"wl":6243,"flux":-0.6},{"wl":6247,"flux":-0.16},{"wl":6251,"flux":-0.25},{"wl":6255,"flux":-0.11},{"wl":6260,"flux":0.21},{"wl":6266,"flux":0.41},{"wl":6271,"flux":-0.11},{"wl":6278,"flux":-0.56},{"wl":6282,"flux":0.32},{"wl":6288,"flux":0.19},{"wl":6291,"flux":-0.18},{"wl":6298,"flux":0.36},{"wl":6304,"flux":-0.45},{"wl":6309,"flux":0.14},{"wl":6316,"flux":-0.46},{"wl":6318,"flux":0.27},{"wl":6327,"flux":-0.16},{"wl":6332,"flux":0.11},{"wl":6337,"flux":-0.15},{"wl":6343,"flux":0.12},{"wl":6347,"flux":-0.34},{"wl":6351,"flux":-0.1},{"wl":6355,"flux":-0.47},{"wl":6363,"flux":-0.52},{"wl":6375,"flux":0.32},{"wl":6381,"flux":0.07},{"wl":6387,"flux":-0.22},{"wl":6391,"flux":0.2},{"wl":6395,"flux":-0.06},{"wl":6402,"flux":0.11},{"wl":6408,"flux":-0.05},{"wl":6414,"flux":0.18},{"wl":6421,"flux":-0.26},{"wl":6431,"flux":0.16},{"wl":6438,"flux":0.02},{"wl":6444,"flux":0.17},{"wl":6449,"flux":0.02},{"wl":6454,"flux":-0.16},{"wl":6461,"flux":0.44},{"wl":6467,"flux":-0.1},{"wl":6470,"flux":-0.23},{"wl":6475,"flux":0.19},{"wl":6480,"flux":-0.1},{"wl":6490,"flux":0.34},{"wl":6495,"flux":-0.35},{"wl":6500,"flux":0.26},{"wl":6505,"flux":0.06},{"wl":6510,"flux":0.24},{"wl":6513,"flux":-0.58},{"wl":6518,"flux":0.01},{"wl":6526,"flux":0.19},{"wl":6530,"flux":-0.05},{"wl":6534,"flux":0.38},{"wl":6538,"flux":-0.18},{"wl":6542,"flux":0.17},{"wl":6547,"flux":0.32},{"wl":6552,"flux":0.12},{"wl":6557,"flux":0.34},{"wl":6564,"flux":-0.06},{"wl":6568,"flux":0.28},{"wl":6573,"flux":0.06},{"wl":6579,"flux":0.44},{"wl":6583,"flux":0.12},{"wl":6592,"flux":-0.15},{"wl":6603,"flux":-0.36},{"wl":6607,"flux":-0.01},{"wl":6614,"flux":-0.26},{"wl":6617,"flux":0.06},{"wl":6622,"flux":0.29},{"wl":6627,"flux":-0.26},{"wl":6633,"flux":0.02},{"wl":6638,"flux":0.4},{"wl":6645,"flux":0.22},{"wl":6648,"flux":-0.2},{"wl":6656,"flux":-0.22},{"wl":6663,"flux":-0.05},{"wl":6673,"flux":-0.53},{"wl":6679,"flux":0.06},{"wl":6689,"flux":0.14},{"wl":6699,"flux":0.14},{"wl":6702,"flux":-0.05},{"wl":6705,"flux":0.14},{"wl":6712,"flux":0.36},{"wl":6718,"flux":-0.17},{"wl":6730,"flux":0.38},{"wl":6736,"flux":0.09},{"wl":6741,"flux":0.38},{"wl":6746,"flux":-0.08},
{"wl":6750,"flux":0.32},{"wl":6755,"flux":-0.35},{"wl":6758,"flux":0.11},{"wl":6762,"flux":-0.1},{"wl":6766,"flux":0.18},{"wl":6771,"flux":0.16},{"wl":6775,"flux":0.06},{"wl":6779,"flux":0.16},{"wl":6783,"flux":-0.29},{"wl":6789,"flux":0.35},{"wl":6794,"flux":-0.21},{"wl":6799,"flux":-0.03},{"wl":6804,"flux":-0.17},{"wl":6807,"flux":0.03},{"wl":6812,"flux":0.02},{"wl":6817,"flux":-0.15},{"wl":6822,"flux":0.11},{"wl":6827,"flux":0.31},{"wl":6832,"flux":0.13},{"wl":6835,"flux":0.34},{"wl":6839,"flux":0.32},{"wl":6845,"flux":-0.05},{"wl":6849,"flux":0.14},{"wl":6853,"flux":-0.13},{"wl":6858,"flux":-0.05},{"wl":6862,"flux":-0.15},{"wl":6866,"flux":-0.5},{"wl":6869,"flux":0.39},{"wl":6874,"flux":0.38},{"wl":6879,"flux":0.09},{"wl":6882,"flux":0.07},{"wl":6887,"flux":-0.29},{"wl":6891,"flux":-0.15},{"wl":6895,"flux":-0.2},{"wl":6899,"flux":0.07},{"wl":6903,"flux":0.02},{"wl":6908,"flux":0.03},{"wl":6913,"flux":-0.21},{"wl":6917,"flux":-0.15},{"wl":6921,"flux":0.07},{"wl":6926,"flux":-0.05},{"wl":6931,"flux":-0.2},{"wl":6936,"flux":-0.31},{"wl":6941,"flux":0.06},{"wl":6946,"flux":-0.21},{"wl":6950,"flux":-0.05},{"wl":6954,"flux":0.06},{"wl":6958,"flux":0.12},{"wl":6962,"flux":0.06},{"wl":6967,"flux":-0.47},{"wl":6972,"flux":0.21},{"wl":6975,"flux":0.4},{"wl":6980,"flux":0.22},{"wl":6984,"flux":0.02},{"wl":6988,"flux":-0.23},{"wl":6993,"flux":0.25},{"wl":6998,"flux":-0.23},{"wl":7003,"flux":-0.01},{"wl":7008,"flux":0.09},{"wl":7013,"flux":0.17},{"wl":7018,"flux":-0.21},{"wl":7023,"flux":0.07},{"wl":7027,"flux":-0.01},{"wl":7031,"flux":0.16},{"wl":7035,"flux":0.02},{"wl":7040,"flux":-0.05},{"wl":7045,"flux":-0.3},{"wl":7050,"flux":0.29},{"wl":7053,"flux":0.06},{"wl":7057,"flux":0.09},{"wl":7061,"flux":-0.15},{"wl":7064,"flux":0.22},{"wl":7070,"flux":-0.05},{"wl":7074,"flux":0.19},{"wl":7079,"flux":0.21},{"wl":7083,"flux":0.16},{"wl":7087,"flux":-0.21},{"wl":7092,"flux":0.14},{"wl":7097,"flux":0.12},{"wl":7101,"flux":0.02},{"wl":7106,"flux":0.11},{"wl":7110,"flux":-0.08},{"wl":7114,"flux":-0.39},{"wl":7119,"flux":-0.06},{"wl":7123,"flux":0.22},{"wl":7127,"flux":0.06},{"wl":7131,"flux":0.17},{"wl":7135,"flux":-0.05},{"wl":7138,"flux":0.28},{"wl":7142,"flux":0.06},{"wl":7146,"flux":0.24},{"wl":7149,"flux":0.16},{"wl":7153,"flux":-0.06},{"wl":7157,"flux":0.11},{"wl":7161,"flux":0.09},{"wl":7166,"flux":0.47},{"wl":7169,"flux":0.02},{"wl":7174,"flux":-0.21},{"wl":7179,"flux":-0.05},{"wl":7184,"flux":-0.07},{"wl":7188,"flux":0.02},{"wl":7192,"flux":-0.01},{"wl":7196,"flux":0.15},{"wl":7200,"flux":-0.1},{"wl":7205,"flux":0.09},{"wl":7208,"flux":-0.1},{"wl":7212,"flux":-0.25},{"wl":7216,"flux":-0.16},{"wl":7220,"flux":0.02},{"wl":7224,"flux":-0.06},{"wl":7227,"flux":0.04},{"wl":7231,"flux":0.29},{"wl":7235,"flux":0.43},{"wl":7238,"flux":0.85},{"wl":7240,"flux":0.19},{"wl":7244,"flux":0.89},{"wl":7247,"flux":0.44},{"wl":7250,"flux":-0.05},{"wl":7254,"flux":-0.36},{"wl":7257,"flux":-0.08},{"wl":7261,"flux":-0.21},{"wl":7265,"flux":-0.1},{"wl":7269,"flux":-0.06},{"wl":7272,"flux":0.39},{"wl":7275,"flux":-0.23},{"wl":7278,"flux":-0.05},{"wl":7282,"flux":-0.33},{"wl":7285,"flux":0.09},{"wl":7288,"flux":-0.31},{"wl":7291,"flux":0.09},{"wl":7295,"flux":-0.36},{"wl":7298,"flux":0.12},{"wl":7301,"flux":-0.36},{"wl":7304,"flux":0.14},{"wl":7308,"flux":-0.28},{"wl":7312,"flux":-0.18},{"wl":7317,"flux":-0.21},{"wl":7322,"flux":-0.33},{"wl":7326,"flux":-0.45},{"wl":7330,"flux":-0.11},{"wl":7334,"flux":-0.06},{"wl":7337,"flux":0.27},{"wl":7340,"flux":0.14},{"wl":7345,"flux":0.09},{"wl":7349,"flux":0.14},{"wl":7353,"flux":0.21},{"wl":7358,"flux":0.06},{"wl":7362,"flux":0.21},{"wl":7365,"flux":0.62},{"wl":7368,"flux":0.06},{"wl":7371,"flux":0.36},{"wl":7374,"flux":0.06},{"wl":7377,"flux":0.38},{"wl":7381,"flux":-0.16},{"wl":7385,"flux":-0.05},{"wl":7388,"flux":0.11},{"wl":7391,"flux":0.06},{"wl":7394,"flux":0.26},{"wl":7398,"flux":-0.06},{"wl":7401,"flux":0.34},{"wl":7406,"flux":-0.2},
{"wl":7411,"flux":-0.21},{"wl":7416,"flux":0.01},{"wl":7419,"flux":-0.2},{"wl":7424,"flux":-0.21},{"wl":7430,"flux":-0.02},{"wl":7434,"flux":-0.11},{"wl":7439,"flux":-0.16},{"wl":7442,"flux":-0.31},{"wl":7446,"flux":0.09},{"wl":7449,"flux":0.11},{"wl":7452,"flux":-0.16},{"wl":7456,"flux":0.06},{"wl":7460,"flux":-0.11},{"wl":7463,"flux":-0.06},{"wl":7469,"flux":0.17},{"wl":7473,"flux":-0.06},{"wl":7475,"flux":-0.35},{"wl":7478,"flux":-0.03},{"wl":7483,"flux":-0.06},{"wl":7486,"flux":-0.21},{"wl":7490,"flux":-0.05},{"wl":7494,"flux":-0.16},{"wl":7498,"flux":-0.26},{"wl":7503,"flux":-0.01},{"wl":7507,"flux":-0.18},{"wl":7511,"flux":-0.01},{"wl":7514,"flux":-0.13},{"wl":7518,"flux":0.34},{"wl":7522,"flux":-0.18},{"wl":7527,"flux":-0.26},{"wl":7531,"flux":0.16},{"wl":7535,"flux":0.12},{"wl":7540,"flux":0.06},{"wl":7545,"flux":0.06},{"wl":7550,"flux":-0.06},{"wl":7553,"flux":0.11},{"wl":7558,"flux":0.19},{"wl":7563,"flux":0.06},{"wl":7567,"flux":0.22},{"wl":7570,"flux":0.07},{"wl":7573,"flux":-0.16},{"wl":7578,"flux":0.09},{"wl":7582,"flux":-0.3},{"wl":7586,"flux":0.09},{"wl":7591,"flux":-0.11},{"wl":7594,"flux":0.12},{"wl":7598,"flux":0.12},{"wl":7602,"flux":0.52},{"wl":7605,"flux":0.51},{"wl":7609,"flux":-0.06},{"wl":7612,"flux":0.17},{"wl":7615,"flux":-0.52},{"wl":7620,"flux":-0.38},{"wl":7625,"flux":-0.48},{"wl":7628,"flux":0.27},{"wl":7632,"flux":0.27},{"wl":7636,"flux":0.32},{"wl":7640,"flux":-0.05},{"wl":7643,"flux":0.22},{"wl":7646,"flux":-0.05},{"wl":7649,"flux":0.16},{"wl":7653,"flux":-0.15},{"wl":7657,"flux":-0.19},{"wl":7661,"flux":-0.21},{"wl":7664,"flux":-0.35},{"wl":7668,"flux":0.0},{"wl":7671,"flux":-0.03},{"wl":7675,"flux":-0.01},{"wl":7680,"flux":-0.18},{"wl":7684,"flux":0.12},{"wl":7687,"flux":0.12},{"wl":7692,"flux":0.32},{"wl":7696,"flux":-0.03},{"wl":7700,"flux":0.22},{"wl":7704,"flux":0.06},{"wl":7708,"flux":-0.32},{"wl":7711,"flux":-0.11},{"wl":7716,"flux":-0.41},{"wl":7721,"flux":0.29},{"wl":7726,"flux":0.26},{"wl":7730,"flux":0.14},{"wl":7734,"flux":0.06},{"wl":7739,"flux":-0.18},{"wl":7744,"flux":0.46},{"wl":7747,"flux":0.09},{"wl":7751,"flux":-0.53},{"wl":7755,"flux":-0.16},{"wl":7758,"flux":-0.26},{"wl":7762,"flux":0.06},{"wl":7767,"flux":0.36},{"wl":7771,"flux":0.63},{"wl":7777,"flux":0.36},{"wl":7781,"flux":0.07},{"wl":7785,"flux":-0.05},{"wl":7790,"flux":-0.06},{"wl":7793,"flux":-0.28},{"wl":7796,"flux":-0.08},{"wl":7801,"flux":0.02},{"wl":7805,"flux":0.58},{"wl":7808,"flux":-0.53},{"wl":7812,"flux":0.16},{"wl":7817,"flux":0.73},{"wl":7821,"flux":0.06},{"wl":7824,"flux":-0.05},{"wl":7829,"flux":0.11},{"wl":7833,"flux":-0.1},{"wl":7837,"flux":0.09},{"wl":7840,"flux":0.6},{"wl":7845,"flux":0.06},{"wl":7848,"flux":0.36},{"wl":7852,"flux":0.24},{"wl":7856,"flux":-0.16},{"wl":7860,"flux":0.16},{"wl":7865,"flux":-0.49},{"wl":7868,"flux":0.32},{"wl":7871,"flux":0.02},{"wl":7875,"flux":0.27},{"wl":7880,"flux":-0.25},{"wl":7884,"flux":0.02},{"wl":7889,"flux":-0.05},{"wl":7893,"flux":0.19},{"wl":7897,"flux":0.22},{"wl":7900,"flux":0.07},{"wl":7904,"flux":0.21},{"wl":7908,"flux":0.06},{"wl":7912,"flux":0.22},{"wl":7917,"flux":0.36},{"wl":7920,"flux":-0.23},{"wl":7924,"flux":0.26},{"wl":7927,"flux":0.07},{"wl":7930,"flux":0.17},{"wl":7934,"flux":0.36},{"wl":7938,"flux":0.16},{"wl":7942,"flux":-0.03},{"wl":7945,"flux":-0.4},{"wl":7949,"flux":0.06},{"wl":7953,"flux":0.19},{"wl":7956,"flux":0.39},{"wl":7959,"flux":0.8},{"wl":7963,"flux":-0.2},{"wl":7967,"flux":-0.06},{"wl":7971,"flux":0.09},{"wl":7975,"flux":0.22},{"wl":7979,"flux":-0.5},{"wl":7983,"flux":-0.08},{"wl":7986,"flux":0.44},{"wl":7990,"flux":0.09},{"wl":7994,"flux":0.31},{"wl":7998,"flux":0.06},{"wl":8001,"flux":-0.16},{"wl":8006,"flux":-0.01},{"wl":8010,"flux":0.19},{"wl":8014,"flux":0.34},{"wl":8018,"flux":0.19},{"wl":8021,"flux":0.59},{"wl":8024,"flux":0.06},{"wl":8028,"flux":-0.31},{"wl":8032,"flux":-0.01},{"wl":8036,"flux":0.09},{"wl":8041,"flux":-0.03},{"wl":8045,"flux":-0.3},{"wl":8049,"flux":0.09},{"wl":8053,"flux":-0.3},{"wl":8057,"flux":-0.75},{"wl":8061,"flux":-0.01},{"wl":8065,"flux":-0.05},{"wl":8068,"flux":-0.23},
{"wl":8070,"flux":0.07},{"wl":8074,"flux":-0.13},{"wl":8078,"flux":-0.16},{"wl":8084,"flux":-0.43},{"wl":8089,"flux":0.17},{"wl":8093,"flux":0.19},{"wl":8097,"flux":0.38},{"wl":8102,"flux":-0.25},{"wl":8105,"flux":0.02},{"wl":8110,"flux":-0.18},{"wl":8113,"flux":-0.01},{"wl":8117,"flux":0.15},{"wl":8120,"flux":-0.06},{"wl":8125,"flux":0.14},{"wl":8129,"flux":-0.06},{"wl":8133,"flux":-0.15},{"wl":8136,"flux":0.13},{"wl":8139,"flux":-0.05},{"wl":8144,"flux":0.13},{"wl":8148,"flux":-0.08},{"wl":8152,"flux":-0.03},{"wl":8157,"flux":-0.32},{"wl":8162,"flux":-0.01},{"wl":8166,"flux":0.06},{"wl":8170,"flux":-0.01},{"wl":8175,"flux":0.24},{"wl":8179,"flux":-0.1},{"wl":8183,"flux":0.06},{"wl":8188,"flux":-0.05},{"wl":8194,"flux":0.37},{"wl":8198,"flux":0.14},{"wl":8202,"flux":0.11},{"wl":8206,"flux":-0.01},{"wl":8209,"flux":-0.1},{"wl":8214,"flux":-0.11},{"wl":8218,"flux":-0.13},{"wl":8223,"flux":0.09},{"wl":8228,"flux":0.29},{"wl":8231,"flux":0.06},{"wl":8234,"flux":-0.21},{"wl":8238,"flux":0.09},{"wl":8242,"flux":0.22},{"wl":8247,"flux":0.14},{"wl":8251,"flux":0.22},{"wl":8254,"flux":0.22},{"wl":8257,"flux":-0.24},{"wl":8262,"flux":0.09},{"wl":8266,"flux":0.34},{"wl":8270,"flux":0.02},{"wl":8275,"flux":0.19},{"wl":8279,"flux":-0.16},{"wl":8283,"flux":0.16},{"wl":8288,"flux":0.36},{"wl":8291,"flux":0.06},{"wl":8294,"flux":0.16},{"wl":8298,"flux":-0.01},{"wl":8302,"flux":0.41},{"wl":8306,"flux":0.19},{"wl":8310,"flux":-0.2},{"wl":8314,"flux":0.27},{"wl":8317,"flux":0.41},{"wl":8322,"flux":0.39},{"wl":8326,"flux":0.32},{"wl":8330,"flux":0.09},{"wl":8333,"flux":-0.15},{"wl":8337,"flux":0.14},{"wl":8341,"flux":0.06},{"wl":8345,"flux":-0.3},{"wl":8350,"flux":0.18},{"wl":8354,"flux":0.16},{"wl":8358,"flux":0.12},{"wl":8363,"flux":0.32},{"wl":8366,"flux":-0.03},{"wl":8369,"flux":0.17},{"wl":8372,"flux":0.06},{"wl":8376,"flux":0.49},{"wl":8380,"flux":-0.31},{"wl":8384,"flux":0.41},{"wl":8387,"flux":-0.05},{"wl":8391,"flux":0.43},{"wl":8394,"flux":0.06},{"wl":8397,"flux":0.19},{"wl":8401,"flux":0.06},{"wl":8404,"flux":-0.03},{"wl":8408,"flux":0.16},{"wl":8412,"flux":0.27},{"wl":8416,"flux":-0.3},{"wl":8419,"flux":0.28},{"wl":8423,"flux":0.02},{"wl":8427,"flux":0.31},{"wl":8430,"flux":-0.29},{"wl":8432,"flux":0.14},{"wl":8436,"flux":0.43},{"wl":8440,"flux":-0.03},{"wl":8444,"flux":0.64},{"wl":8447,"flux":0.12},{"wl":8451,"flux":0.06},{"wl":8454,"flux":-0.01},{"wl":8457,"flux":-0.05},{"wl":8461,"flux":0.11},{"wl":8465,"flux":0.24},{"wl":8469,"flux":0.15},{"wl":8472,"flux":0.22},{"wl":8476,"flux":-0.1},{"wl":8479,"flux":0.27},{"wl":8482,"flux":-0.11},{"wl":8485,"flux":0.27},{"wl":8489,"flux":0.02},{"wl":8492,"flux":-0.11},{"wl":8495,"flux":0.22},{"wl":8498,"flux":-0.42},{"wl":8502,"flux":0.11},{"wl":8506,"flux":0.21},{"wl":8509,"flux":0.28},{"wl":8513,"flux":0.06},{"wl":8516,"flux":0.02},{"wl":8520,"flux":-0.08},{"wl":8524,"flux":-0.11},{"wl":8528,"flux":0.18},{"wl":8532,"flux":-0.18},{"wl":8536,"flux":-0.16},{"wl":8539,"flux":-0.35},{"wl":8543,"flux":-0.28},{"wl":8547,"flux":-0.49},{"wl":8551,"flux":-0.18},{"wl":8554,"flux":0.14},{"wl":8557,"flux":-0.01},{"wl":8560,"flux":-0.2},{"wl":8564,"flux":0.02},{"wl":8567,"flux":0.21},{"wl":8570,"flux":-0.18},{"wl":8573,"flux":0.22},{"wl":8577,"flux":-0.05},{"wl":8581,"flux":-0.33},{"wl":8585,"flux":0.22},{"wl":8589,"flux":-0.08},{"wl":8592,"flux":0.02},{"wl":8596,"flux":-0.05},{"wl":8599,"flux":-0.33},{"wl":8603,"flux":0.01},{"wl":8606,"flux":0.03},{"wl":8609,"flux":-0.05},{"wl":8612,"flux":-0.2},{"wl":8616,"flux":0.02},{"wl":8619,"flux":-0.48},{"wl":8622,"flux":0.68},{"wl":8624,"flux":0.89},{"wl":8627,"flux":0.22},{"wl":8630,"flux":-0.21},{"wl":8632,"flux":-0.74},{"wl":8636,"flux":-0.21},{"wl":8639,"flux":-0.01},{"wl":8643,"flux":-0.1},{"wl":8646,"flux":-0.42},{"wl":8650,"flux":-0.11},{"wl":8654,"flux":-0.05},{"wl":8657,"flux":-0.1},{"wl":8661,"flux":0.26},{"wl":8663,"flux":0.44},{"wl":8667,"flux":-0.03},{"wl":8671,"flux":0.02},{"wl":8675,"flux":0.39},{"wl":8678,"flux":0.39},{"wl":8682,"flux":0.26},{"wl":8684,"flux":0.06},{"wl":8687,"flux":0.09},{"wl":8691,"flux":-0.08},{"wl":8694,"flux":-0.31},{"wl":8697,"flux":0.12},{"wl":8701,"flux":0.06},{"wl":8704,"flux":-0.08},{"wl":8707,"flux":0.01},{"wl":8710,"flux":-0.23},{"wl":8714,"flux":0.02},{"wl":8717,"flux":-0.08},{"wl":8720,"flux":-0.16},{"wl":8723,"flux":0.02},
{"wl":8727,"flux":-0.23},{"wl":8730,"flux":0.06},{"wl":8734,"flux":0.2},{"wl":8737,"flux":0.06},{"wl":8740,"flux":0.05},{"wl":8744,"flux":-0.01},{"wl":8747,"flux":-0.1},{"wl":8751,"flux":0.06},{"wl":8753,"flux":0.62},{"wl":8757,"flux":-0.16},{"wl":8760,"flux":0.32},{"wl":8763,"flux":-0.05},{"wl":8766,"flux":0.23},{"wl":8770,"flux":0.64},{"wl":8774,"flux":0.07},{"wl":8778,"flux":0.07},{"wl":8781,"flux":-0.18},{"wl":8786,"flux":-0.46},{"wl":8790,"flux":-0.15},{"wl":8794,"flux":-0.03},{"wl":8798,"flux":0.27},{"wl":8801,"flux":0.01},{"wl":8804,"flux":0.09},{"wl":8807,"flux":0.07},{"wl":8811,"flux":0.02},{"wl":8814,"flux":-0.28},{"wl":8819,"flux":0.02},{"wl":8822,"flux":0.09},{"wl":8827,"flux":0.66},{"wl":8830,"flux":-0.11},{"wl":8834,"flux":0.16},{"wl":8837,"flux":-0.11},{"wl":8839,"flux":-0.58},{"wl":8843,"flux":0.11},{"wl":8847,"flux":-0.03},{"wl":8850,"flux":-0.46},{"wl":8853,"flux":0.06},{"wl":8856,"flux":0.02},{"wl":8860,"flux":0.16},{"wl":8864,"flux":0.22},{"wl":8867,"flux":0.12},{"wl":8871,"flux":0.16},{"wl":8874,"flux":-0.23},{"wl":8877,"flux":0.24},{"wl":8881,"flux":0.24},{"wl":8884,"flux":0.01},{"wl":8887,"flux":0.22},{"wl":8890,"flux":0.06},{"wl":8894,"flux":0.8},{"wl":8898,"flux":0.06},{"wl":8902,"flux":-0.07},{"wl":8905,"flux":0.19},{"wl":8909,"flux":0.06},{"wl":8912,"flux":0.17},{"wl":8915,"flux":0.04},{"wl":8918,"flux":0.22},{"wl":8923,"flux":-0.07},{"wl":8927,"flux":0.12},{"wl":8931,"flux":0.44},{"wl":8933,"flux":0.06},{"wl":8937,"flux":-0.39},{"wl":8940,"flux":-0.01},{"wl":8944,"flux":-0.2},{"wl":8947,"flux":0.06},{"wl":8950,"flux":0.23},{"wl":8954,"flux":-0.06},{"wl":8957,"flux":-0.11},{"wl":8960,"flux":0.06},{"wl":8963,"flux":0.22},{"wl":8967,"flux":0.36},{"wl":8970,"flux":0.57},{"wl":8974,"flux":-0.03},{"wl":8977,"flux":0.57},{"wl":8980,"flux":0.59},{"wl":8983,"flux":0.06},{"wl":8987,"flux":-0.35},{"wl":8990,"flux":0.81},{"wl":8993,"flux":0.96},{"wl":8997,"flux":0.81},{"wl":9000,"flux":-0.03},{"wl":9003,"flux":0.39},{"wl":9007,"flux":0.52},{"wl":9010,"flux":-0.02},{"wl":9013,"flux":-0.22},{"wl":9016,"flux":0.22},{"wl":9019,"flux":0.12},{"wl":9023,"flux":0.06},{"wl":9026,"flux":0.07},{"wl":9029,"flux":-0.15},{"wl":9032,"flux":0.09},{"wl":9036,"flux":0.02},{"wl":9039,"flux":0.48},{"wl":9042,"flux":0.06},{"wl":9045,"flux":-0.05},{"wl":9049,"flux":0.29},{"wl":9052,"flux":0.06},{"wl":9056,"flux":-0.1},{"wl":9060,"flux":0.22},{"wl":9064,"flux":0.43},{"wl":9067,"flux":-0.1},{"wl":9071,"flux":-0.1},{"wl":9075,"flux":0.14},{"wl":9078,"flux":-0.11},{"wl":9081,"flux":-0.18},{"wl":9084,"flux":-0.5},{"wl":9087,"flux":-0.1},{"wl":9090,"flux":-0.28},{"wl":9094,"flux":-0.35},{"wl":9098,"flux":0.06},{"wl":9101,"flux":0.24},{"wl":9104,"flux":-0.05},{"wl":9107,"flux":-0.01},{"wl":9112,"flux":0.06},{"wl":9117,"flux":0.3},{"wl":9122,"flux":-0.05},{"wl":9126,"flux":-0.06},{"wl":9130,"flux":-0.25},{"wl":9133,"flux":-0.48},{"wl":9137,"flux":-0.06},{"wl":9141,"flux":0.21},{"wl":9145,"flux":-0.31},{"wl":9148,"flux":-0.16},{"wl":9151,"flux":-0.18},{"wl":9154,"flux":0.11},{"wl":9158,"flux":0.06},{"wl":9161,"flux":0.17},{"wl":9164,"flux":0.06},{"wl":9167,"flux":0.22},{"wl":9171,"flux":0.22},{"wl":9174,"flux":0.06},{"wl":9177,"flux":0.43},{"wl":9181,"flux":-0.01},{"wl":9184,"flux":0.16},{"wl":9188,"flux":0.43},{"wl":9192,"flux":-0.05},{"wl":9194,"flux":-0.21},{"wl":9197,"flux":0.06},{"wl":9201,"flux":0.64},{"wl":9203,"flux":0.29},{"wl":9207,"flux":-0.21},{"wl":9210,"flux":0.11},{"wl":9213,"flux":0.09},{"wl":9216,"flux":-0.01},{"wl":9220,"flux":-0.23},{"wl":9223,"flux":-0.1},{"wl":9226,"flux":-0.25},{"wl":9229,"flux":-0.15},{"wl":9233,"flux":-0.26},{"wl":9236,"flux":-0.36},{"wl":9240,"flux":-0.21},{"wl":9242,"flux":-0.23},{"wl":9246,"flux":-0.28},{"wl":9249,"flux":-0.35},{"wl":9253,"flux":0.06},{"wl":9255,"flux":0.21},{"wl":9259,"flux":0.19},{"wl":9262,"flux":0.16},{"wl":9265,"flux":0.09},{"wl":9268,"flux":0.38},{"wl":9272,"flux":0.38},{"wl":9275,"flux":0.16},{"wl":9279,"flux":-0.21},{"wl":9282,"flux":-0.21},{"wl":9285,"flux":0.22},{"wl":9288,"flux":0.61},{"wl":9291,"flux":0.12},{"wl":9295,"flux":0.52},{"wl":9297,"flux":0.12}
]
},
"encoding": {
"x": {"field": "wl", "type": "quantitative", "scale": {"domain": [4753, 9300], "nice": false, "zero": false},
 "axis": {"values": [5000, 6000, 7000, 8000, 9000], "format": "d", "labelFontSize": 26.5, "tickSize": 14, "labelBaseline": "alphabetic", "labelPadding": 36, "title": "Wavelength", "titleFontSize": 33, "titleBaseline": "alphabetic", "titleX": 1162, "titleY": 82}},
"y": {"field": "flux", "type": "quantitative", "scale": {"domain": [-1.337, 1.225], "nice": false, "zero": false},
 "axis": {"values": [-1, -0.5, 0, 0.5, 1], "format": ".1f", "labelFontSize": 34, "tickSize": 13, "labelPadding": 21, "title": "10⁻¹⁸ erg s⁻¹ cm⁻² Å⁻¹", "titleFontSize": 48, "titleBaseline": "alphabetic", "titleX": -150, "titleY": 350}}
},
"layer": [
{"data": {"name": "error"}, "mark": {"type": "line", "color": "#008000", "strokeWidth": 1.5, "clip": true}},
{"data": {"name": "model"}, "mark": {"type": "line", "color": "#0000ff", "strokeWidth": 5.5, "clip": true}},
{"data": {"name": "flux"}, "mark": {"type": "line", "color": "#000000", "strokeWidth": 4.5, "strokeJoin": "round", "clip": true}}
],
"config": {
"view": {"stroke": "#000000", "strokeWidth": 2.2},
"axis": {"grid": false, "domain": false, "labelFont": "DejaVu Sans", "titleFont": "DejaVu Sans", "labelColor": "#000000", "titleColor": "#000000", "tickColor": "#000000", "tickWidth": 2, "titleFontWeight": "normal", "labelFontWeight": "normal"}
}
}
